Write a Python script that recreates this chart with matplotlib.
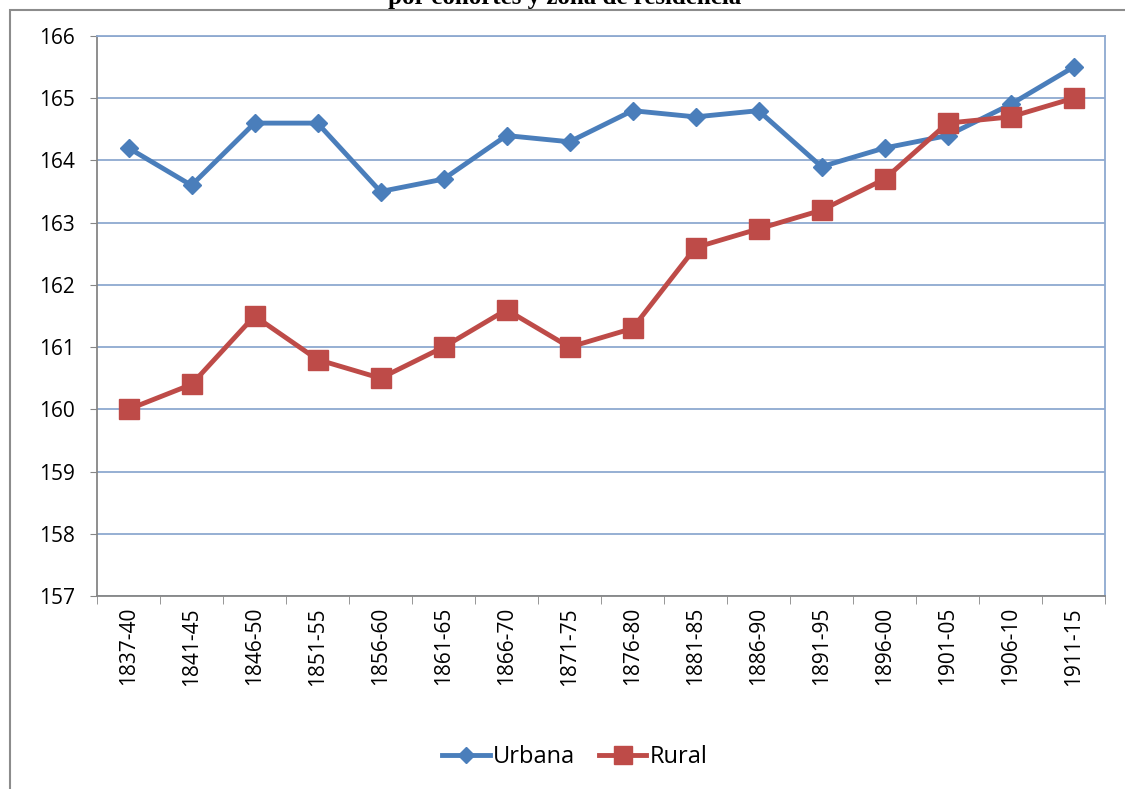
import matplotlib
matplotlib.use("Agg")
import matplotlib.pyplot as plt
from matplotlib.patches import Rectangle

# Data
cohorts = ["1837-40", "1841-45", "1846-50", "1851-55", "1856-60", "1861-65",
           "1866-70", "1871-75", "1876-80", "1881-85", "1886-90", "1891-95",
           "1896-00", "1901-05", "1906-10", "1911-15"]
urbana = [164.2, 163.6, 164.6, 164.6, 163.5, 163.7, 164.4, 164.3,
          164.8, 164.7, 164.8, 163.9, 164.2, 164.4, 164.9, 165.5]
rural = [160.0, 160.4, 161.5, 160.8, 160.5, 161.0, 161.6, 161.0,
         161.3, 162.6, 162.9, 163.2, 163.7, 164.6, 164.7, 165.0]
yticks = list(range(157, 167))

W, H = 1125, 789
fig = plt.figure(figsize=(W / 100, H / 100), dpi=100)

# Outer chart frame (left and top edges visible)
fig.patches.append(Rectangle((10 / W, -0.01), 1.2, 1 - 10 / H + 0.01,
                             transform=fig.transFigure, fill=False,
                             edgecolor="#8c8c8c", linewidth=1.5))

# Title, cut off at the top as in the source
fig.text(565 / W, 1 - 4 / H, "por cohortes y zona de residencia",
         ha="center", va="baseline", fontsize=18, fontweight="bold",
         family="Liberation Serif")

ax = fig.add_axes([97 / W, 1 - 596 / H, (1105 - 97) / W, (596 - 36) / H])

x = range(len(cohorts))
ax.plot(x, urbana, color="#4A7EBB", linewidth=3.5, marker="D", markersize=9,
        label="Urbana", zorder=3)
ax.plot(x, rural, color="#BE4B48", linewidth=3.5, marker="s", markersize=14,
        label="Rural", zorder=4)

ax.set_xlim(-0.5, len(cohorts) - 0.5)
ax.set_ylim(157, 166)
ax.set_yticks(yticks)
ax.set_yticklabels([str(v) for v in yticks], fontsize=15, family="Open Sans")
ax.set_xticks(x)
ax.set_xticklabels(cohorts, rotation=90, fontsize=15, family="Open Sans")
ax.tick_params(axis="x", length=0, pad=8)
ax.set_xticks([i + 0.5 for i in range(-1, len(cohorts))], minor=True)
ax.tick_params(axis="x", which="minor", length=6, color="#868686")
ax.tick_params(axis="y", length=5, color="#868686", pad=11)

ax.grid(axis="y", color="#8EA9D0", linewidth=1.3)
ax.set_axisbelow(True)
ax.spines["left"].set_color("#868686")
ax.spines["bottom"].set_color("#868686")
ax.spines["right"].set_color("#8EA9D0")
ax.spines["top"].set_color("#8EA9D0")
for s in ax.spines.values():
    s.set_linewidth(1.3)

leg = fig.legend(loc="center", bbox_to_anchor=(575 / W, 1 - 757 / H), ncol=2,
                 frameon=False, prop={"family": "Open Sans", "size": 17},
                 handlelength=2.0, columnspacing=1.0, handletextpad=0.15,
                 markerscale=0.9)

fig.savefig("out.png", dpi=100)
